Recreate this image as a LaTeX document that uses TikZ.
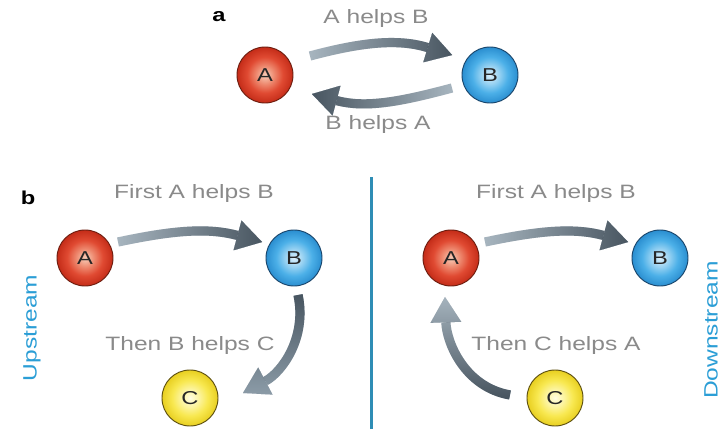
\documentclass[tikz,border=0pt]{standalone}
\usepackage{fontspec}
\setmainfont{Liberation Sans}
\newfontfamily\lab[FakeStretch=1.27]{Liberation Sans}
\usetikzlibrary{arrows.meta,fadings,calc}

\definecolor{txtgray}{HTML}{8A8A8A}
\definecolor{bluetxt}{HTML}{2B9ED6}
\definecolor{divider}{HTML}{2E8DB5}
\definecolor{arrlight}{HTML}{AAB8C2}
\definecolor{arrmid}{HTML}{8E9EAA}
\definecolor{arrdark}{HTML}{46535E}

\definecolor{Alight}{HTML}{F8CDB8}
\definecolor{Amid}{HTML}{EE8A70}
\definecolor{Amain}{HTML}{E04A32}
\definecolor{Adark}{HTML}{C42C18}
\definecolor{Aedge}{HTML}{6E1E10}
\definecolor{Blight}{HTML}{DCF0FC}
\definecolor{Bmid}{HTML}{98D2F2}
\definecolor{Bmain}{HTML}{4CB0E8}
\definecolor{Bdark}{HTML}{2A8ED0}
\definecolor{Bedge}{HTML}{1A466C}
\definecolor{Clight}{HTML}{FFFDE2}
\definecolor{Cmid}{HTML}{FCF4A0}
\definecolor{Cmain}{HTML}{F8E850}
\definecolor{Cdark}{HTML}{E8CF20}
\definecolor{Cedge}{HTML}{5E5010}

\pgfdeclareradialshading{ballA}{\pgfpoint{0bp}{0bp}}{color(0bp)=(Alight); color(8bp)=(Amid); color(16bp)=(Amain); color(25bp)=(Adark); color(50bp)=(Adark)}
\pgfdeclareradialshading{ballB}{\pgfpoint{0bp}{0bp}}{color(0bp)=(Blight); color(8bp)=(Bmid); color(16bp)=(Bmain); color(25bp)=(Bdark); color(50bp)=(Bdark)}
\pgfdeclareradialshading{ballC}{\pgfpoint{0bp}{0bp}}{color(0bp)=(Clight); color(8bp)=(Cmid); color(16bp)=(Cmain); color(25bp)=(Cdark); color(50bp)=(Cdark)}

\tikzset{
  txtfont/.style={font=\lab\fontsize{14.5}{16}\selectfont},
  ball/.style={circle, minimum size=42pt, inner sep=0pt, line width=0.7pt, font=\lab\fontsize{14}{16}\selectfont, text=black!85, shade},
  ballA/.style={ball, draw=Aedge, shading=ballA},
  ballB/.style={ball, draw=Bedge, shading=ballB},
  ballC/.style={ball, draw=Cedge, shading=ballC},
  lbl/.style={txtfont, text=txtgray, anchor=base, inner sep=0pt},
  side/.style={txtfont, text=bluetxt, rotate=90, inner sep=0pt},
  panel/.style={font=\lab\bfseries\fontsize{14}{16}\selectfont, text=black, inner sep=0pt},
  gbody/.style={line width=6.9pt, -{Triangle[length=19pt,width=23pt,line width=0.01pt]}},
}

\begin{document}
\begin{tikzpicture}[x=0.75pt,y=0.75pt]
\useasboundingbox (0,0) rectangle (722,429);
\fill[white] (0,0) rectangle (722,429);

% ---------- panel a ----------
\node[panel] (pa) at (219,412) {a};
\node[ballA] (tA) at (265,354) {A};
\node[ballB] (tB) at (490,354) {B};
\node[lbl] (l1) at (376,405) {A helps B};
\node[lbl] (l2) at (378,299) {B helps A};

\coordinate (s1) at ($(tA)+(45,19)$);
\coordinate (e1) at ($(tB)+(-38,20)$);
\draw[gbody, arrlight] (s1) to[out=15,in=163] (e1);
\draw[gbody, arrdark, path fading=west] (s1) to[out=15,in=163] (e1);

\coordinate (s2) at ($(tB)+(-38,-13)$);
\coordinate (e2) at ($(tA)+(47,-19)$);
\draw[gbody, arrlight] (s2) to[out=195,in=-15] (e2);
\draw[gbody, arrdark, path fading=east] (s2) to[out=195,in=-15] (e2);

% ---------- panel b ----------
\node[panel] (pb) at (28,231) {b};
\draw[divider, line width=2pt] (371.5,0) -- (371.5,252);

% left: upstream
\node[ballA] (lA) at (85,171) {A};
\node[ballB] (lB) at (294,171) {B};
\node[ballC] (lC) at (190,31) {C};
\node[lbl] (l3) at (194,230) {First A helps B};
\node[lbl] (l4) at (190,79) {Then B helps C};
\node[side] (up) at (32,101) {Upstream};

\coordinate (s3) at ($(lA)+(33,16)$);
\coordinate (e3) at ($(lB)+(-32,16)$);
\draw[gbody, arrlight] (s3) to[out=12,in=165] (e3);
\draw[gbody, arrdark, path fading=west] (s3) to[out=12,in=165] (e3);

\coordinate (s4) at ($(lB)+(4,-37)$);
\coordinate (e4) at ($(lC)+(53,5)$);
\draw[gbody, arrmid] (s4) to[out=-78,in=28] (e4);
\draw[gbody, arrdark, path fading=south] (s4) to[out=-78,in=28] (e4);

% right: downstream
\node[ballA] (rA) at (451,171) {A};
\node[ballB] (rB) at (660,171) {B};
\node[ballC] (rC) at (555,31) {C};
\node[lbl] (l5) at (556,230) {First A helps B};
\node[lbl] (l6) at (556,79) {Then C helps A};
\node[side] (down) at (711,99) {Downstream};

\coordinate (s6) at ($(rA)+(34,16)$);
\coordinate (e6) at ($(rB)+(-32,16)$);
\draw[gbody, arrlight] (s6) to[out=12,in=165] (e6);
\draw[gbody, arrdark, path fading=west] (s6) to[out=12,in=165] (e6);

\coordinate (s5) at ($(rC)+(-45,3)$);
\coordinate (e5) at ($(rA)+(-6,-39)$);
\draw[gbody, arrlight] (s5) to[out=170,in=-88] (e5);
\draw[gbody, arrdark, path fading=north] (s5) to[out=170,in=-88] (e5);
\end{tikzpicture}
\end{document}
